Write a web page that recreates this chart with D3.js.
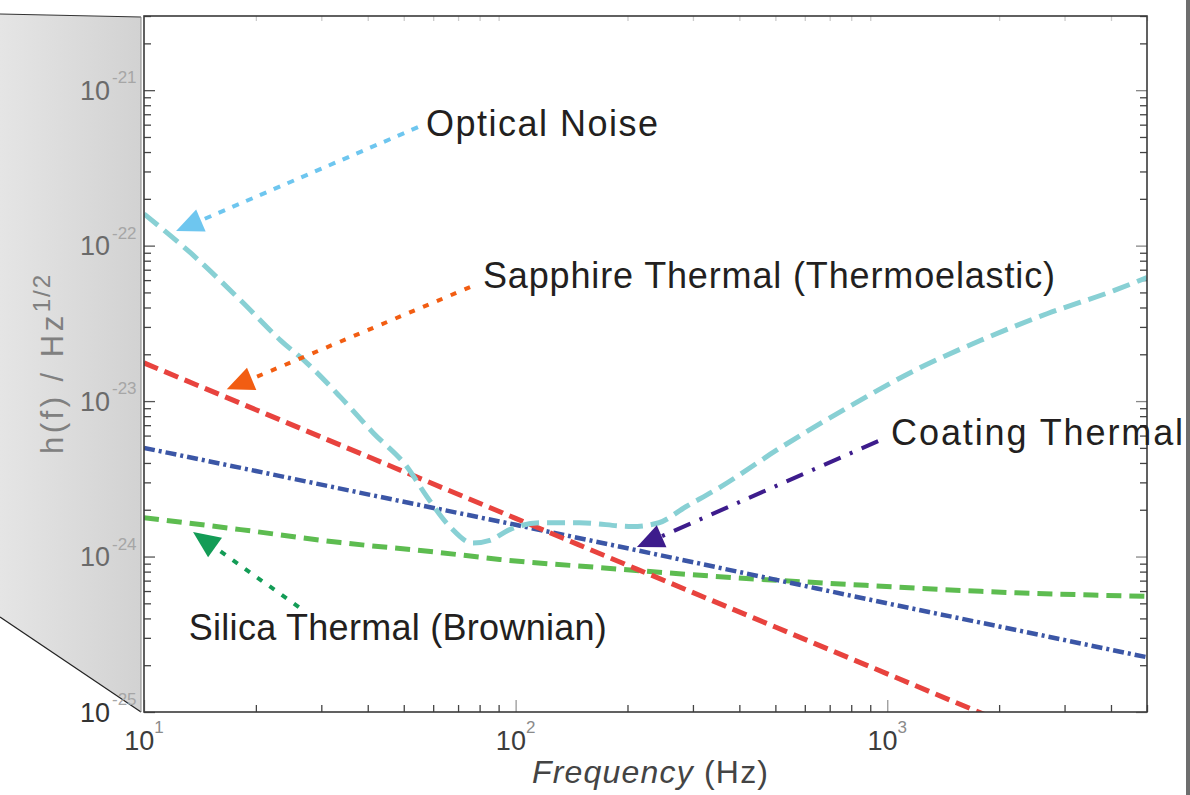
<!DOCTYPE html>
<html>
<head>
<meta charset="utf-8">
<script src="https://cdn.jsdelivr.net/npm/d3@7"></script>
<style>
  html, body { margin: 0; padding: 0; background: #fff; overflow: hidden; }
  svg { display: block; font-family: "Liberation Sans", Arial, Helvetica, sans-serif; }
</style>
</head>
<body>
<svg id="chart" width="1190" height="795"></svg>
<script>
// ---- Noise spectra: frequency (Hz) and strain amplitude h(f) (1/sqrt(Hz)) ----
const opticalFreq  = [10, 13.4, 18.2, 23.3, 27.5, 33.8, 41.4, 51, 57.7, 66.5, 76.7, 85.2, 96.4, 116, 148.5, 206, 243, 287, 346, 520, 786, 1188, 1786, 2702, 4085, 5000];
const opticalNoise = [1.60e-22, 8.9e-23, 4.44e-23, 2.46e-23, 1.75e-23, 1.06e-23, 6.24e-24, 3.78e-24, 2.43e-24, 1.56e-24, 1.22e-24, 1.27e-24, 1.49e-24, 1.65e-24, 1.65e-24, 1.56e-24, 1.65e-24, 2.09e-24, 2.69e-24, 5.07e-24, 9.15e-24, 1.58e-23, 2.46e-23, 3.66e-23, 5.15e-23, 6.24e-23];

const sapphireFreq    = [10, 20, 50, 100, 200, 500, 1000, 2000];
const sapphireThermal = [1.76e-23, 8.8e-24, 3.52e-24, 1.76e-24, 8.8e-25, 3.52e-25, 1.76e-25, 8.8e-26];

const coatingFreq    = [10, 20, 50, 100, 200, 500, 1000, 2000, 5000];
const coatingThermal = [5.0e-24, 3.55e-24, 2.25e-24, 1.6e-24, 1.13e-24, 7.1e-25, 5.0e-25, 3.55e-25, 2.25e-25];

const silicaFreq    = [10, 18.2, 33.8, 62.7, 90.6, 167, 346, 786, 1786, 5000];
const silicaThermal = [1.78e-24, 1.49e-24, 1.23e-24, 1.06e-24, 9.58e-25, 8.5e-25, 7.45e-25, 6.62e-25, 5.97e-25, 5.54e-25];

// ---- Axis ticks ----
const xMajorTicks = [10, 100, 1000];
const xTickExponents = ["1", "2", "3"];
const yMajorTicks = [1e-25, 1e-24, 1e-23, 1e-22, 1e-21];
const yTickExponents = ["-25", "-24", "-23", "-22", "-21"];

// ---- Annotations (anchored in data coordinates) ----
const annotationText = ["Optical Noise", "Sapphire Thermal (Thermoelastic)", "Coating Thermal", "Silica Thermal (Brownian)"];
const labelFreq       = [57.4, 81.7, 1024, 13.2];
const labelStrain     = [5.06e-22, 5.33e-23, 5.21e-24, 2.9e-25];
const arrowFromFreq   = [54.6, 75.4, 945, 26.1];
const arrowFromStrain = [5.78e-22, 5.41e-23, 5.53e-24, 4.73e-25];
const arrowToFreq     = [12.2, 16.7, 212, 13.55];
const arrowToStrain   = [1.24e-22, 1.19e-23, 1.15e-24, 1.44e-24];

// ---- Layout ----
const svg = d3.select("#chart");
const plotLeft = 144, plotRight = 1147, plotTop = 16, plotBottom = 712;

const x = d3.scaleLog().domain([10, 5000]).range([plotLeft, plotRight]);
const y = d3.scaleLog().domain([1e-25, 3e-21]).range([plotBottom, plotTop]);

const defs = svg.append("defs");
const grad = defs.append("linearGradient").attr("id", "panelShade")
  .attr("x1", "0").attr("x2", "1").attr("y1", "0").attr("y2", "0");
grad.append("stop").attr("offset", "0").attr("stop-color", "#e5e5e5");
grad.append("stop").attr("offset", "1").attr("stop-color", "#d2d2d2");
defs.append("clipPath").attr("id", "plotClip")
  .append("rect").attr("x", plotLeft).attr("y", plotTop)
  .attr("width", plotRight - plotLeft).attr("height", plotBottom - plotTop);

// shaded side panel behind the y axis labels
svg.append("path")
  .attr("d", `M0,14 L141,17 L141,${plotBottom} L0,617 Z`)
  .attr("fill", "url(#panelShade)");
svg.append("path").attr("d", "M0,14 L141,17").attr("stroke", "#333").attr("stroke-width", 1.2).attr("fill", "none");
svg.append("path").attr("d", `M0,617 L141,${plotBottom}`).attr("stroke", "#222").attr("stroke-width", 1.2).attr("fill", "none");
svg.append("line").attr("x1", 141).attr("x2", 141).attr("y1", 17).attr("y2", plotBottom)
  .attr("stroke", "#8a8a8a").attr("stroke-width", 1);

// right page edge
svg.append("rect").attr("x", 1186).attr("y", 0).attr("width", 4).attr("height", 795).attr("fill", "#6e6e6e");

// plot background
svg.append("rect").attr("x", plotLeft).attr("y", plotTop)
  .attr("width", plotRight - plotLeft).attr("height", plotBottom - plotTop)
  .attr("fill", "#fff");

// ---- Ticks (inside) ----
const yAll = y.ticks().filter(v => v <= 3e-21);
const yMinor = yAll.filter(v => !yMajorTicks.some(m => Math.abs(m - v) / m < 1e-6));
const xAll = x.ticks();
const xMinor = xAll.filter(v => !xMajorTicks.some(m => Math.abs(m - v) / m < 1e-6));

function styleAxis(g, color) {
  g.select(".domain").remove();
  g.selectAll(".tick line").attr("stroke", color).attr("stroke-width", 1.3);
  g.selectAll(".tick text").remove();
}
svg.append("g").attr("transform", `translate(${plotLeft},0)`)
  .call(d3.axisLeft(y).tickValues(yMinor).tickSize(-7)).call(g => styleAxis(g, "#444"));
svg.append("g").attr("transform", `translate(${plotLeft},0)`)
  .call(d3.axisLeft(y).tickValues(yMajorTicks).tickSize(-11)).call(g => styleAxis(g, "#555"));
svg.append("g").attr("transform", `translate(${plotRight},0)`)
  .call(d3.axisRight(y).tickValues(yMinor).tickSize(-7)).call(g => styleAxis(g, "#444"));
svg.append("g").attr("transform", `translate(${plotRight},0)`)
  .call(d3.axisRight(y).tickValues(yMajorTicks).tickSize(-11)).call(g => styleAxis(g, "#888"));
svg.append("g").attr("transform", `translate(0,${plotBottom})`)
  .call(d3.axisBottom(x).tickValues(xMinor).tickSize(-7)).call(g => styleAxis(g, "#444"));
svg.append("g").attr("transform", `translate(0,${plotBottom})`)
  .call(d3.axisBottom(x).tickValues(xMajorTicks).tickSize(-12)).call(g => styleAxis(g, "#999"));
svg.append("g").attr("transform", `translate(0,${plotTop})`)
  .call(d3.axisTop(x).tickValues(xMinor).tickSize(-5)).call(g => styleAxis(g, "#cccccc"));

// ---- Curves ----
const line = d3.line()
  .x(d => x(d[0])).y(d => y(d[1]))
  .curve(d3.curveMonotoneX);
const zip = (f, h) => f.map((v, i) => [v, h[i]]);

const curves = svg.append("g").attr("clip-path", "url(#plotClip)").attr("fill", "none").attr("stroke-linecap", "butt");
curves.append("path").attr("d", line(zip(silicaFreq, silicaThermal)))
  .attr("stroke", "#5dbc50").attr("stroke-width", 5).attr("stroke-dasharray", "15 8");
curves.append("path").attr("d", line(zip(coatingFreq, coatingThermal)))
  .attr("stroke", "#3b56a6").attr("stroke-width", 4.5).attr("stroke-dasharray", "11 4 3 4");
curves.append("path").attr("d", line(zip(sapphireFreq, sapphireThermal)))
  .attr("stroke", "#e8433e").attr("stroke-width", 5).attr("stroke-dasharray", "15 7");
curves.append("path").attr("d", line(zip(opticalFreq, opticalNoise)))
  .attr("stroke", "#88d0d4").attr("stroke-width", 5).attr("stroke-dasharray", "18 8");

// frame drawn over the curves
svg.append("rect").attr("x", plotLeft).attr("y", plotTop)
  .attr("width", plotRight - plotLeft).attr("height", plotBottom - plotTop)
  .attr("fill", "none").attr("stroke", "#3a3a3a").attr("stroke-width", 1.6);

// ---- Annotation arrows ----
const arrowColor = ["#6ec6ef", "#f25d12", "#3d1c8c", "#139c56"];
const arrowDash = ["7 8", "6 9", "18 10 3 10", "6 9"];
const headLen = 27, headHalf = 12;
annotationText.forEach((t, i) => {
  const sx = x(arrowFromFreq[i]), sy = y(arrowFromStrain[i]);
  const tx = x(arrowToFreq[i]), ty = y(arrowToStrain[i]);
  const L = Math.hypot(sx - tx, sy - ty);
  const ux = (sx - tx) / L, uy = (sy - ty) / L;
  const bx = tx + ux * headLen, by = ty + uy * headLen;
  svg.append("line").attr("x1", sx).attr("y1", sy).attr("x2", bx).attr("y2", by)
    .attr("stroke", arrowColor[i]).attr("stroke-width", 4).attr("stroke-dasharray", arrowDash[i]);
  svg.append("path")
    .attr("d", `M${tx},${ty} L${bx - uy * headHalf},${by + ux * headHalf} L${bx + uy * headHalf},${by - ux * headHalf} Z`)
    .attr("fill", arrowColor[i]);
});

// ---- Annotation labels ----
const labelWidth = [232, 572, 292, 418];
annotationText.forEach((t, i) => {
  svg.append("text")
    .attr("x", x(labelFreq[i])).attr("y", y(labelStrain[i]))
    .attr("font-size", 36).attr("fill", "#231f20")
    .attr("textLength", labelWidth[i]).attr("lengthAdjust", "spacing")
    .text(t);
});

// ---- Tick labels ----
yMajorTicks.forEach((v, i) => {
  const yy = y(v);
  svg.append("text").attr("x", 110).attr("y", yy + 9.5).attr("text-anchor", "end")
    .attr("font-size", 27).attr("fill", i === 0 ? "#333" : "#6a6a6a").text("10");
  svg.append("text").attr("x", 112).attr("y", yy - 7)
    .attr("font-size", 17).attr("fill", "#a6a6a6").text(yTickExponents[i]);
});
xMajorTicks.forEach((v, i) => {
  const t = svg.append("text").attr("x", x(v)).attr("y", 750).attr("text-anchor", "middle")
    .attr("font-size", 27).attr("fill", "#3c3c3c");
  t.append("tspan").text("10");
  t.append("tspan").attr("dy", -17).attr("font-size", 17).attr("fill", "#8a8a8a").text(xTickExponents[i]);
});

// ---- Axis titles ----
const yt = svg.append("text").attr("transform", "translate(63,454) rotate(-90)")
  .attr("font-size", 31).attr("fill", "#808080");
yt.append("tspan").attr("letter-spacing", 3.5).text("h(f) / Hz");
yt.append("tspan").attr("dy", -13).attr("font-size", 24).attr("letter-spacing", 2).text("1/2");

const xt = svg.append("text").attr("x", 532).attr("y", 783)
  .attr("font-size", 32).attr("fill", "#444")
  .attr("textLength", 236).attr("lengthAdjust", "spacing");
xt.append("tspan").attr("font-style", "italic").text("Frequency");
xt.append("tspan").text(" (Hz)");
</script>
</body>
</html>
